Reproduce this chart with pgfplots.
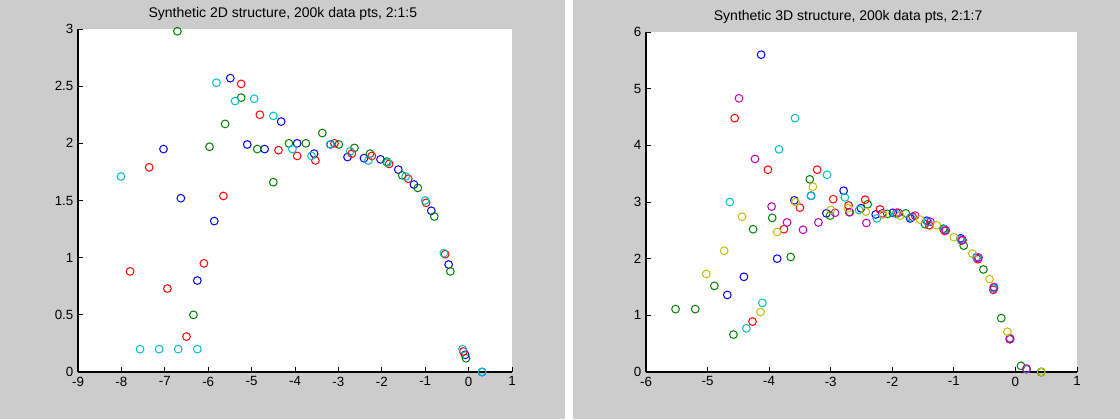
\documentclass[border=0pt]{standalone}
\usepackage{pgfplots}
\pgfplotsset{compat=1.18}
\usepackage{fontspec}
\setmainfont{Liberation Sans}
\definecolor{bg}{gray}{0.8}
\definecolor{mb}{rgb}{0,0,1}
\definecolor{mg}{rgb}{0,0.5,0}
\definecolor{mr}{rgb}{1,0,0}
\definecolor{mc}{rgb}{0,0.75,0.75}
\definecolor{mm}{rgb}{0.75,0,0.75}
\definecolor{my}{rgb}{0.75,0.75,0}
\pgfplotsset{
  mstyle/.style={
    scale only axis, clip=false,
    axis x line*=bottom, axis y line*=left,
    axis line style={black, line width=0.8pt},
    tick align=inside, major tick length=3.5pt,
    tick style={black, line width=0.7pt},
    axis background/.style={fill=white},
    tick label style={font=\fontsize{10}{12}\selectfont},
    title style={font=\fontsize{10.5}{12}\selectfont, anchor=base, yshift=3pt},
    every axis plot/.append style={only marks, mark=o, mark size=2.9pt, line width=0.75pt},
  }
}
\begin{document}
\begin{tikzpicture}[x=1pt,y=1pt]
\fill[bg] (0,0) rectangle (423.75,314.25);
\fill[white] (423.75,0) rectangle (429.75,314.25);
\fill[bg] (429.75,0) rectangle (840,314.25);
\useasboundingbox (0,0) rectangle (840,314.25);

\begin{axis}[mstyle,
  at={(58.5pt,35.25pt)}, anchor=south west,
  width=325.5pt, height=257.25pt,
  xmin=-9, xmax=1, ymin=0, ymax=3,
  xtick={-9,-8,-7,-6,-5,-4,-3,-2,-1,0,1},
  xticklabels={-9,-8,-7,-6,-5,-4,-3,-2,-1,0,1},
  ytick={0,0.5,1,1.5,2,2.5,3},
  yticklabels={0,0.5,1,1.5,2,2.5,3},
  title={Synthetic 2D structure, 200k data pts, 2:1:5},
  title style={at={(axis description cs:0.472,1)}},
]
\addplot[mb] coordinates {(-7.03,1.95) (-6.63,1.52) (-6.25,0.80) (-5.86,1.32) (-5.49,2.57) (-5.10,1.99) (-4.70,1.95) (-4.32,2.19) (-3.95,2.00) (-3.56,1.91) (-3.18,1.99) (-2.79,1.88) (-2.41,1.87) (-2.03,1.86) (-1.62,1.77) (-1.26,1.64) (-0.86,1.41) (-0.46,0.94) (-0.08,0.15) (0.31,0.0)};
\addplot[mg] coordinates {(-6.71,2.98) (-6.34,0.50) (-5.97,1.97) (-5.61,2.17) (-5.24,2.40) (-4.87,1.95) (-4.50,1.66) (-4.14,2.00) (-3.75,2.00) (-3.37,2.09) (-2.99,1.99) (-2.63,1.96) (-2.27,1.91) (-1.89,1.84) (-1.53,1.72) (-1.17,1.61) (-0.79,1.36) (-0.42,0.88) (-0.06,0.12)};
\addplot[mr] coordinates {(-7.80,0.88) (-7.36,1.79) (-6.94,0.73) (-6.50,0.31) (-6.10,0.95) (-5.65,1.54) (-5.24,2.52) (-4.81,2.25) (-4.38,1.94) (-3.95,1.89) (-3.53,1.85) (-3.09,2.00) (-2.69,1.91) (-2.23,1.89) (-1.83,1.82) (-1.39,1.69) (-0.98,1.48) (-0.54,1.03) (-0.12,0.18)};
\addplot[mc] coordinates {(-8.01,1.71) (-7.57,0.20) (-7.13,0.20) (-6.69,0.20) (-6.25,0.20) (-5.81,2.53) (-5.38,2.37) (-4.94,2.39) (-4.50,2.24) (-4.06,1.95) (-3.62,1.89) (-3.19,1.99) (-2.73,1.93) (-2.31,1.85) (-1.87,1.83) (-1.45,1.71) (-1.00,1.50) (-0.57,1.04) (-0.14,0.20) (0.31,0.0)};
\end{axis}

\begin{axis}[mstyle,
  at={(484.5pt,35.25pt)}, anchor=south west,
  width=323.25pt, height=255pt,
  xmin=-6, xmax=1, ymin=0, ymax=6,
  xtick={-6,-5,-4,-3,-2,-1,0,1},
  xticklabels={-6,-5,-4,-3,-2,-1,0,1},
  ytick={0,1,2,3,4,5,6},
  yticklabels={0,1,2,3,4,5,6},
  title={Synthetic 3D structure, 200k data pts, 2:1:7},
  title style={at={(axis description cs:0.469,1)}},
]
\addplot[mb] coordinates {(-4.68,1.36) (-4.41,1.68) (-4.13,5.60) (-3.87,2.00) (-3.59,3.03) (-3.32,3.11) (-3.07,2.80) (-2.79,3.20) (-2.51,2.89) (-2.27,2.78) (-1.99,2.81) (-1.71,2.71) (-1.44,2.67) (-1.16,2.52) (-0.89,2.36) (-0.63,2.02) (-0.35,1.48) (-0.09,0.58) (0.42,0.0)};
\addplot[mg] coordinates {(-5.52,1.11) (-5.20,1.11) (-4.89,1.52) (-4.58,0.66) (-4.26,2.52) (-3.95,2.72) (-3.65,2.03) (-3.34,3.40) (-3.01,2.76) (-2.70,2.82) (-2.40,2.96) (-2.08,2.79) (-1.78,2.80) (-1.47,2.61) (-1.17,2.53) (-0.84,2.23) (-0.52,1.81) (-0.23,0.95) (0.09,0.11) (0.42,0.0)};
\addplot[mr] coordinates {(-4.56,4.48) (-4.27,0.89) (-4.02,3.57) (-3.76,2.52) (-3.50,2.90) (-3.22,3.57) (-2.96,3.05) (-2.71,2.94) (-2.44,3.04) (-2.20,2.87) (-1.93,2.81) (-1.67,2.74) (-1.40,2.59) (-1.15,2.49) (-0.875,2.32) (-0.61,1.99) (-0.36,1.45) (-0.09,0.58) (0.18,0.05)};
\addplot[mc] coordinates {(-4.64,3.00) (-4.37,0.77) (-4.11,1.22) (-3.84,3.93) (-3.58,4.48) (-3.32,3.11) (-3.06,3.48) (-2.77,3.08) (-2.54,2.86) (-2.25,2.71) (-1.94,2.79) (-1.70,2.73) (-1.42,2.65) (-1.15,2.52) (-0.89,2.34) (-0.63,2.03) (-0.36,1.48) (-0.09,0.60) (0.18,0.05)};
\addplot[mm] coordinates {(-4.49,4.83) (-4.23,3.76) (-3.96,2.92) (-3.71,2.64) (-3.45,2.51) (-3.20,2.64) (-2.93,2.81) (-2.69,2.82) (-2.42,2.63) (-2.16,2.80) (-1.90,2.81) (-1.63,2.76) (-1.38,2.65) (-1.13,2.50) (-0.86,2.33) (-0.60,2.02) (-0.35,1.50) (-0.09,0.59) (0.18,0.06)};
\addplot[my] coordinates {(-5.02,1.73) (-4.73,2.14) (-4.44,2.74) (-4.14,1.06) (-3.87,2.47) (-3.57,3.00) (-3.29,3.27) (-3.00,2.86) (-2.72,2.89) (-2.43,2.83) (-2.15,2.78) (-1.87,2.76) (-1.55,2.69) (-1.28,2.59) (-1.00,2.38) (-0.70,2.09) (-0.42,1.64) (-0.13,0.71) (0.42,0.0)};
\end{axis}
\end{tikzpicture}
\end{document}
